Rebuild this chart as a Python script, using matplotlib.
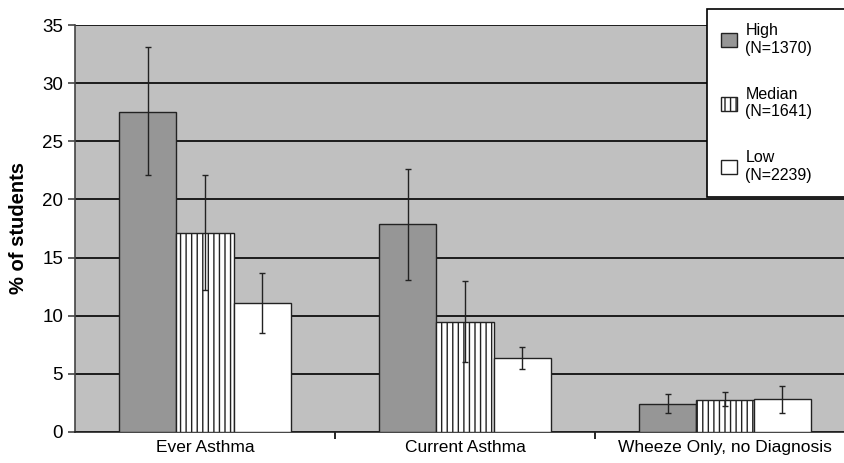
import numpy as np
import matplotlib.pyplot as plt

plt.rcParams['font.family'] = ['Liberation Sans', 'DejaVu Sans']
plt.rcParams['hatch.linewidth'] = 1.0

# Daten
categorias = ["Ever Asthma", "Current Asthma", "Wheeze Only, no Diagnosis"]
grupos = ["High\n(N=1370)", "Median\n(N=1641)", "Low\n(N=2239)"]
high = [27.5, 17.9, 2.4]
high_lo = [22.1, 13.1, 1.6]
high_hi = [33.1, 22.6, 3.25]
median = [17.1, 9.45, 2.75]
median_lo = [12.2, 6.05, 2.2]
median_hi = [22.1, 13.0, 3.4]
low = [11.1, 6.35, 2.8]
low_lo = [8.55, 5.4, 1.6]
low_hi = [13.7, 7.3, 3.95]

valores = [high, median, low]
inferiores = [high_lo, median_lo, low_lo]
superiores = [high_hi, median_hi, low_hi]
cores = ["#969696", "white", "white"]
hachuras = [None, "|||", None]

fig = plt.figure(figsize=(8.44, 4.63), dpi=100)
ax = fig.add_axes([75/844, 31/463, 780/844, 407/463])
ax.set_facecolor("#c0c0c0")

x = np.arange(len(categorias))
largura = 0.221
for i, (v, lo, hi) in enumerate(zip(valores, inferiores, superiores)):
    pos = x + (i - 1) * largura
    v = np.array(v)
    erro = [v - np.array(lo), np.array(hi) - v]
    ax.bar(pos, v, largura, color=cores[i], edgecolor="#222222", linewidth=1.0,
           hatch=hachuras[i], label=grupos[i], zorder=3)
    ax.errorbar(pos, v, yerr=erro, fmt="none", ecolor="#222222", elinewidth=1.0,
                capsize=2.5, capthick=1.0, zorder=4)

ax.set_ylim(0, 35)
ax.set_xlim(-0.5, 2.5)
ax.set_yticks(range(0, 36, 5))
ax.yaxis.grid(True, color="black", linewidth=1.2, zorder=1)
ax.set_axisbelow(True)
ax.set_xticks(x)
ax.set_xticklabels(categorias, fontsize=12.5)
ax.set_xticks([0.5, 1.5], minor=True)
ax.tick_params(axis="x", which="major", length=0, pad=6)
ax.tick_params(axis="x", which="minor", length=5, width=1.2, color="black")
ax.tick_params(axis="y", labelsize=13.5, length=5, width=1.2, color="#444444")
ax.set_ylabel("% of students", fontsize=14.5, fontweight="bold", labelpad=10)
for s in ["top", "right"]:
    ax.spines[s].set_visible(False)
ax.spines["left"].set_color("#444444")
ax.spines["bottom"].set_color("#222222")
ax.spines["left"].set_linewidth(1.2)
ax.spines["bottom"].set_linewidth(1.2)

leg = fig.legend(loc="upper left", bbox_to_anchor=(707/844, 1 - 9/463, 150/844, 0),
                 mode="expand", fontsize=11.5, frameon=True, fancybox=False,
                 edgecolor="black", framealpha=1, borderaxespad=0,
                 handlelength=1.0, handleheight=1.0, handletextpad=0.5,
                 labelspacing=1.95, borderpad=0.9)
leg.get_frame().set_linewidth(1.2)

fig.savefig("out.png", dpi=100)
